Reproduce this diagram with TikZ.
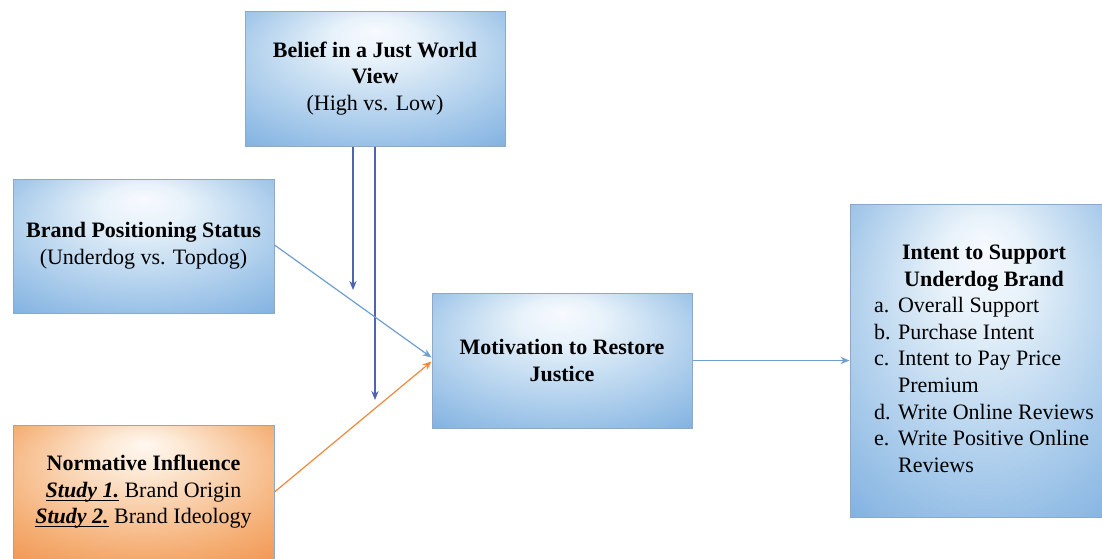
\documentclass[tikz,border=0pt]{standalone}
\usepackage{fontspec}
\setmainfont{Liberation Serif}
\newfontfamily\tnr{Liberation Serif}
\usetikzlibrary{arrows.meta}
\pgfdeclareradialshading{bluebox}{\pgfpoint{0bp}{18bp}}{rgb(0bp)=(0.97,0.98,1); rgb(8bp)=(0.91,0.95,0.98); rgb(30bp)=(0.62,0.77,0.91); rgb(50bp)=(0.36,0.60,0.84)}
\pgfdeclareradialshading{orangebox}{\pgfpoint{0bp}{18bp}}{rgb(0bp)=(1,0.97,0.94); rgb(8bp)=(0.99,0.91,0.83); rgb(30bp)=(0.96,0.68,0.45); rgb(50bp)=(0.93,0.49,0.19)}
\definecolor{boxline}{HTML}{8FA8C8}
\definecolor{arrblue}{HTML}{6F9ED2}
\definecolor{arrdark}{HTML}{4F63B3}
\definecolor{arrorange}{HTML}{F0883E}
\newcommand{\studyul}[1]{\textbf{\textit{#1}}\llap{\rule[-1.6pt]{\widthof{\textbf{\textit{#1}}}}{0.5pt}}}
\usepackage{calc}
\tikzset{
  bluenode/.style={draw=boxline, line width=0.5pt, shading=bluebox, align=center, inner sep=0pt,
    font=\tnr\fontsize{11}{13.3}\selectfont},
  orangenode/.style={draw=boxline, line width=0.5pt, shading=orangebox, align=center, inner sep=0pt,
    font=\tnr\fontsize{11}{13.3}\selectfont},
  conn/.style={line width=0.6pt, -{Stealth[length=4.5pt,width=3.6pt]}},
}
\begin{document}
\begin{tikzpicture}[x=0.5pt,y=-0.5pt]
\clip (0,0) rectangle (1102,558);
\fill[white] (0,0) rectangle (1102,558);
\node[bluenode, minimum width=130pt, minimum height=67.5pt] (belief) at (375,78.5)
  {\textbf{Belief in a Just World}\\\textbf{View}\\(High vs. Low)};
\node[bluenode, minimum width=130.5pt, minimum height=67pt] (brand) at (143.5,246)
  {\textbf{Brand Positioning Status}\\(Underdog vs. Topdog)};
\node[orangenode, minimum width=130.5pt, minimum height=67pt] (norm) at (143.5,492)
  {\textbf{Normative Influence}\\\studyul{Study 1.} Brand Origin\\\studyul{Study 2.} Brand Ideology};
\node[bluenode, minimum width=130pt, minimum height=67.5pt] (motiv) at (562,360.5)
  {\textbf{Motivation to Restore}\\\textbf{Justice}};
\node[bluenode, minimum width=134pt, minimum height=156.5pt] (intent) at (984,360.5)
  {\begin{tabular}{@{}p{12pt}@{}l@{}}
   \multicolumn{2}{@{}c@{}}{\textbf{Intent to Support}}\\
   \multicolumn{2}{@{}c@{}}{\textbf{Underdog Brand}}\\
   a. & Overall Support\\
   b. & Purchase Intent\\
   c. & Intent to Pay Price\\
      & Premium\\
   d. & Write Online Reviews\\
   e. & Write Positive Online\\
      & Reviews
   \end{tabular}};
\coordinate (v1) at (353,290);
\coordinate (v2) at (375,400);
\draw[conn, arrdark] ([xshift=-11pt]belief.south) -- (v1);
\draw[conn, arrdark] (belief.south) -- (v2);
\draw[conn, arrblue] ([yshift=0.5pt]brand.east) -- ([yshift=1.5pt]motiv.west);
\draw[conn, arrorange] (norm.east) -- ([yshift=-0.5pt]motiv.west);
\draw[conn, arrblue] (motiv.east) -- (intent.west);
\end{tikzpicture}
\end{document}
